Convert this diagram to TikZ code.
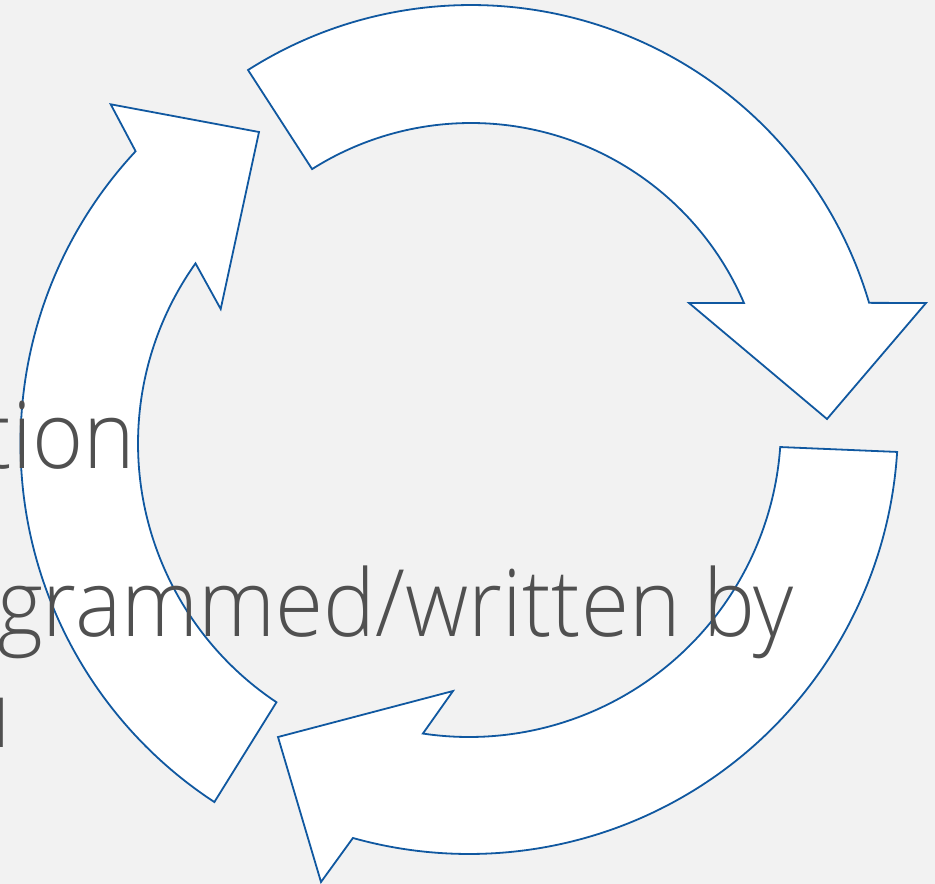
\documentclass[tikz,border=0pt]{standalone}
\usepackage{fontspec}
\setmainfont{Open Sans}[UprightFont=* Light, FakeStretch=0.94]
\usetikzlibrary{calc}
\definecolor{slidebg}{HTML}{F2F2F2}
\definecolor{arrowblue}{RGB}{16,88,160}
\definecolor{ink}{HTML}{505050}

\begin{document}
\begin{tikzpicture}[x=1pt,y=-1pt,
  cyclearrow/.style={draw=arrowblue, fill=white, line width=1.8pt, line join=miter},
  slidetext/.style={text=ink, font=\fontsize{93}{110}\selectfont, inner sep=0pt, anchor=base east}]
  \fill[slidebg] (0,0) rectangle (935,884);
  \useasboundingbox (0,0) rectangle (935,884);
  \begin{scope}
    \clip (0,0) rectangle (935,884);
    % centres of the three curved arrows
    \coordinate (ct) at (471,420);
    \coordinate (cb) at (469,425);
    \coordinate (cl) at (449,443.5);
    % top arrow, sweeping to the right
    \draw[cyclearrow] ($(ct)+(-122.5:415)$) arc[start angle=-122.5, end angle=-16.4, radius=415]
      -- (926,303) -- (827,419) -- (689,303)
      -- ($(ct)+(-23.2:297)$) arc[start angle=-23.2, end angle=-122.35, radius=297] -- cycle;
    % lower arrow, sweeping to the left
    \draw[cyclearrow] ($(cb)+(3.6:429)$) arc[start angle=3.6, end angle=105.7, radius=429]
      -- (321,882) -- (278,737) -- (453,691)
      -- ($(cb)+(98.5:312)$) arc[start angle=98.5, end angle=4.05, radius=312] -- cycle;
    % left arrow, sweeping upwards
    \draw[cyclearrow] ($(cl)+(123.2:428.5)$) arc[start angle=123.2, end angle=223, radius=428.5]
      -- (110.7,104.3) -- (259,132) -- (220.7,309)
      -- ($(cl)+(215.4:311)$) arc[start angle=215.4, end angle=123.7, radius=311] -- cycle;
    % text lines
    \node[slidetext] (t1) at (135,468) {tion};
    \node[slidetext] (t2) at (794,636) {grammed/written by};
    \node[slidetext] (t3) at (11,747) {u};
  \end{scope}
\end{tikzpicture}
\end{document}
